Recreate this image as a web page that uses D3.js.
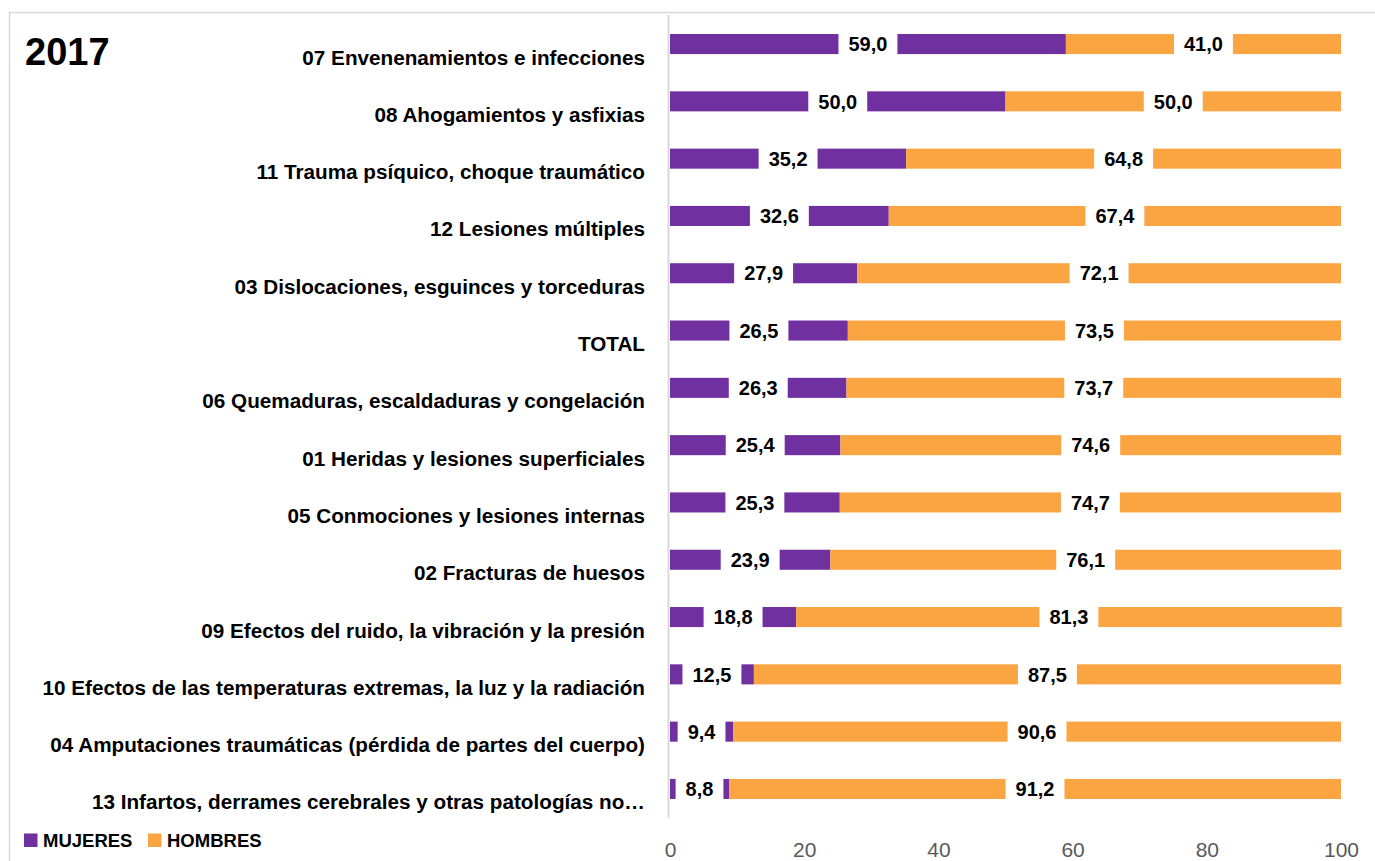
<!DOCTYPE html>
<html>
<head>
<meta charset="utf-8">
<title>2017</title>
<style>
  body { margin: 0; background: #fff; }
  svg text { font-family: "Liberation Sans", Arial, sans-serif; }
</style>
</head>
<body>
<div id="chart"></div>
<script src="https://cdnjs.cloudflare.com/ajax/libs/d3/7.8.5/d3.min.js"></script>
<script>
const categories = [
  "07 Envenenamientos e infecciones",
  "08 Ahogamientos y asfixias",
  "11 Trauma psíquico, choque traumático",
  "12 Lesiones múltiples",
  "03 Dislocaciones, esguinces y torceduras",
  "TOTAL",
  "06 Quemaduras, escaldaduras y congelación",
  "01 Heridas y lesiones superficiales",
  "05 Conmociones y lesiones internas",
  "02 Fracturas de huesos",
  "09 Efectos del ruido, la vibración y la presión",
  "10 Efectos de las temperaturas extremas, la luz y la radiación",
  "04 Amputaciones traumáticas (pérdida de partes del cuerpo)",
  "13 Infartos, derrames cerebrales y otras patologías no…"
];
const mujeres = [59.0, 50.0, 35.2, 32.6, 27.9, 26.5, 26.3, 25.4, 25.3, 23.9, 18.8, 12.5, 9.4, 8.8];
const hombres = [41.0, 50.0, 64.8, 67.4, 72.1, 73.5, 73.7, 74.6, 74.7, 76.1, 81.3, 87.5, 90.6, 91.2];
const seriesNames = ["MUJERES", "HOMBRES"];
const xTicks = [0, 20, 40, 60, 80, 100];

const W = 1375, H = 861;
const colors = {MUJERES: "#7030A0", HOMBRES: "#FBA442"};

const svg = d3.select("#chart").append("svg")
  .attr("width", W).attr("height", H);

// chart border
svg.append("rect")
  .attr("x", 9.5).attr("y", 12.5)
  .attr("width", 1400).attr("height", 900)
  .attr("fill", "none").attr("stroke", "#D9D9D9").attr("stroke-width", 1.5);

const x = d3.scaleLinear().domain([0, 100]).range([670, 1341]);
const y = d3.scaleBand().domain(categories).range([15.4, 817.6])
  .paddingInner(0.65).paddingOuter(0.325);

const rows = categories.map((c, i) => ({cat: c, MUJERES: mujeres[i], HOMBRES: hombres[i]}));
const stacked = d3.stack().keys(seriesNames)(rows);

// bars
svg.append("g").selectAll("g")
  .data(stacked)
  .join("g")
    .attr("fill", d => colors[d.key])
  .selectAll("rect")
  .data(d => d)
  .join("rect")
    .attr("x", d => x(d[0]))
    .attr("y", d => y(d.data.cat))
    .attr("width", d => x(d[1]) - x(d[0]))
    .attr("height", y.bandwidth());

// vertical axis line
svg.append("line")
  .attr("x1", 668.5).attr("x2", 668.5)
  .attr("y1", 15).attr("y2", 818)
  .attr("stroke", "#D9D9D9").attr("stroke-width", 2);

// category labels
svg.append("g").selectAll("text")
  .data(categories)
  .join("text")
    .attr("x", 645)
    .attr("y", d => y(d) + y.bandwidth() / 2 + 20.5)
    .attr("text-anchor", "end")
    .style("font-size", "20.7px")
    .style("font-weight", "bold")
    .attr("fill", "#000")
    .text(d => d);

// data labels with white boxes
const labels = svg.append("g");
stacked.forEach(s => {
  s.forEach(d => {
    const cx = (x(d[0]) + x(d[1])) / 2;
    const cy = y(d.data.cat) + y.bandwidth() / 2;
    const g = labels.append("g");
    const box = g.append("rect").attr("fill", "#fff");
    const t = g.append("text")
      .attr("x", cx).attr("y", cy)
      .attr("dy", "0.36em")
      .attr("text-anchor", "middle")
      .style("font-size", "20px")
      .style("font-weight", "bold")
      .text(d3.format(".1f")(d.data[s.key]).replace(".", ","));
    const tw = t.node().getComputedTextLength();
    box.attr("x", cx - tw / 2 - 10)
      .attr("y", y(d.data.cat) - 1)
      .attr("width", tw + 20)
      .attr("height", y.bandwidth() + 2);
  });
});

// x axis
const xAxis = d3.axisBottom(x).tickValues(xTicks).tickSize(0).tickFormat(d3.format("d"));
const gx = svg.append("g").attr("transform", "translate(0,835)").call(xAxis);
gx.select(".domain").remove();
gx.selectAll("text")
  .attr("dy", 0).attr("y", 22)
  .style("font-family", "'Liberation Sans', Arial, sans-serif")
  .style("font-size", "21px")
  .attr("fill", "#595959");

// title
svg.append("text")
  .attr("x", 25).attr("y", 65)
  .style("font-size", "38px")
  .style("font-weight", "bold")
  .text("2017");

// legend
const legend = svg.append("g");
const legendX = [24, 148];
seriesNames.forEach((name, i) => {
  legend.append("rect")
    .attr("x", legendX[i]).attr("y", 833.5)
    .attr("width", 13.5).attr("height", 13.5)
    .attr("fill", colors[name]);
  legend.append("text")
    .attr("x", legendX[i] + 19).attr("y", 847)
    .style("font-size", "18.5px")
    .style("font-weight", "bold")
    .text(name);
});
</script>
</body>
</html>
